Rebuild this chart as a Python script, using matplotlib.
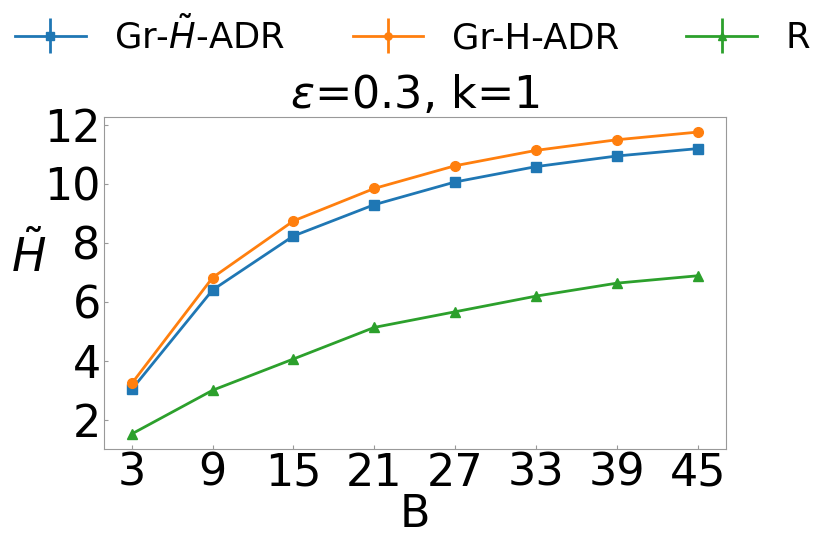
import matplotlib
matplotlib.use("Agg")
import matplotlib.pyplot as plt
import numpy as np

B = [3, 9, 15, 21, 27, 33, 39, 45]
gr_htilde = [3.03, 6.40, 8.23, 9.29, 10.06, 10.58, 10.94, 11.19]
gr_h = [3.23, 6.82, 8.74, 9.84, 10.61, 11.13, 11.49, 11.75]
r_vals = [1.52, 3.00, 4.06, 5.13, 5.66, 6.19, 6.63, 6.88]
labels = [r"Gr-$\tilde{H}$-ADR", "Gr-H-ADR", "R"]

fig = plt.figure(figsize=(8.3, 5.4), dpi=100)
ax = fig.add_axes([103.5/830, 1 - 449/540, (726-103.5)/830, (449-117)/540])

series = [(gr_htilde, "s", "#1f77b4"), (gr_h, "o", "#ff7f0e"), (r_vals, "^", "#2ca02c")]
for (vals, m, c), lab in zip(series, labels):
    ax.errorbar(B, vals, yerr=np.zeros(len(vals)), marker=m, color=c, ms=7, lw=2, label=lab)

ax.set_xticks(B)
ax.set_yticks([2, 4, 6, 8, 10, 12])
ax.tick_params(labelsize=32, length=3, color="#999999", width=0.8, pad=2, direction="in")
for s in ax.spines.values():
    s.set_color("#999999")
ax.set_xlabel("B", fontsize=32, labelpad=-1)
ax.set_ylabel(r"$\tilde{H}$", fontsize=33, rotation=0, va="center", ha="center")
ax.yaxis.set_label_coords(-0.121, 0.578)
ax.set_title(r"$\varepsilon$=0.3, k=1", fontsize=32, pad=4)

fig.legend(loc="upper center", bbox_to_anchor=(0.497, 1.03), ncol=3, frameon=False,
           fontsize=25.5, markerscale=0.75, columnspacing=1.9, handlelength=2.0,
           handletextpad=0.8)

fig.savefig("out.png", dpi=100)
